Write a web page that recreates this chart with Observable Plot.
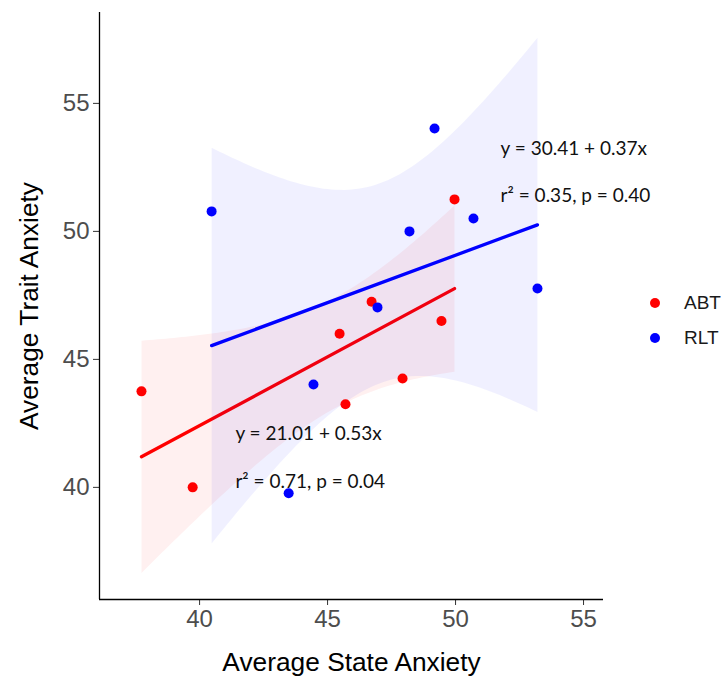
<!DOCTYPE html>
<html><head><meta charset="utf-8">
<script src="https://cdn.jsdelivr.net/npm/d3@7"></script>
<script src="https://cdn.jsdelivr.net/npm/@observablehq/plot@0.6"></script>
<style>
body{margin:0;background:#fff}
#c{position:relative;width:721px;height:678px;font-family:"Liberation Sans",Arial,sans-serif}
#c svg g[aria-label$="tick label"]{fill:#4d4d4d}
.leg{position:absolute;left:650px;font-size:19px;line-height:20px;color:#1a1a1a;display:flex;align-items:center}
.leg span.sw{display:inline-block;width:10px;height:10px;border-radius:50%;margin-right:24px}
</style>
</head><body><div id="c"></div>
<script>
const groups = ["ABT", "RLT"];
const colors = ["#ff0000", "#0000ff"];
const abtX = [37.73, 39.73, 45.47, 45.70, 46.72, 47.93, 49.45, 49.96];
const abtY = [43.75, 40.00, 46.00, 43.25, 47.25, 44.25, 46.50, 51.25];
const rltX = [40.47, 43.48, 44.45, 46.95, 48.20, 49.18, 50.70, 53.20];
const rltY = [50.78, 39.77, 44.02, 47.03, 50.00, 54.02, 50.50, 47.77];
const eqText = ["y = 21.01 + 0.53x", "r² = 0.71, p = 0.04", "y = 30.41 + 0.37x", "r² = 0.35, p = 0.40"];
const eqX = [41.40, 41.40, 51.76, 51.76];
const eqY = [42.10, 40.23, 53.24, 51.37];
const xTicks = [40, 45, 50, 55];
const yTicks = [40, 45, 50, 55];
const xTitle = "Average State Anxiety";
const yTitle = "Average Trait Anxiety";
const xDom = [36.09, 55.78];
const yDom = [35.62, 58.55];

const data = [
  ...abtX.map((x, i) => ({g: groups[0], x, y: abtY[i]})),
  ...rltX.map((x, i) => ({g: groups[1], x, y: rltY[i]}))
];
const eqs = eqText.map((t, i) => ({t, x: eqX[i], y: eqY[i]}));

const chart = Plot.plot({
  width: 721, height: 678,
  marginLeft: 99, marginRight: 118, marginTop: 12, marginBottom: 79,
  style: {fontFamily: '"Liberation Sans", Arial, sans-serif', background: "#fff"},
  x: {domain: xDom, label: null},
  y: {domain: yDom, label: null},
  color: {domain: groups, range: colors},
  marks: [
    Plot.linearRegressionY(data, {x: "x", y: "y", stroke: "g", fill: "g", fillOpacity: 0.06, strokeWidth: 3.3, ci: 0.95}),
    Plot.dot(data, {x: "x", y: "y", fill: "g", r: 5}),
    Plot.text(eqs, {x: "x", y: "y", text: "t", textAnchor: "start", lineAnchor: "middle", fontSize: 19, fontFamily: 'Lato, "Open Sans", sans-serif', fill: "#111"}),
    Plot.axisX({ticks: xTicks, tickSize: 6, tickPadding: 4, fontSize: 24, stroke: "#333", label: null}),
    Plot.axisY({ticks: yTicks, tickSize: 6, tickPadding: 4, fontSize: 24, stroke: "#333", label: null}),
    Plot.ruleY([yDom[0]], {stroke: "#000", strokeWidth: 1.3}),
    Plot.ruleX([xDom[0]], {stroke: "#000", strokeWidth: 1.3}),
    Plot.text([xTitle], {text: d => d, frameAnchor: "bottom", lineAnchor: "middle", textAnchor: "middle", dy: 63, fontSize: 26.3, fill: "#000"}),
    Plot.text([yTitle], {text: d => d, frameAnchor: "left", lineAnchor: "middle", textAnchor: "middle", dx: -70, rotate: -90, fontSize: 26.3, fill: "#000"})
  ]
});
const c = document.getElementById("c");
c.appendChild(chart);
groups.forEach((g, i) => {
  const d = document.createElement("div");
  d.className = "leg";
  d.style.top = (293 + i * 35) + "px";
  d.innerHTML = `<span class="sw" style="background:${colors[i]}"></span>${g}`;
  c.appendChild(d);
});
</script>
</body></html>
